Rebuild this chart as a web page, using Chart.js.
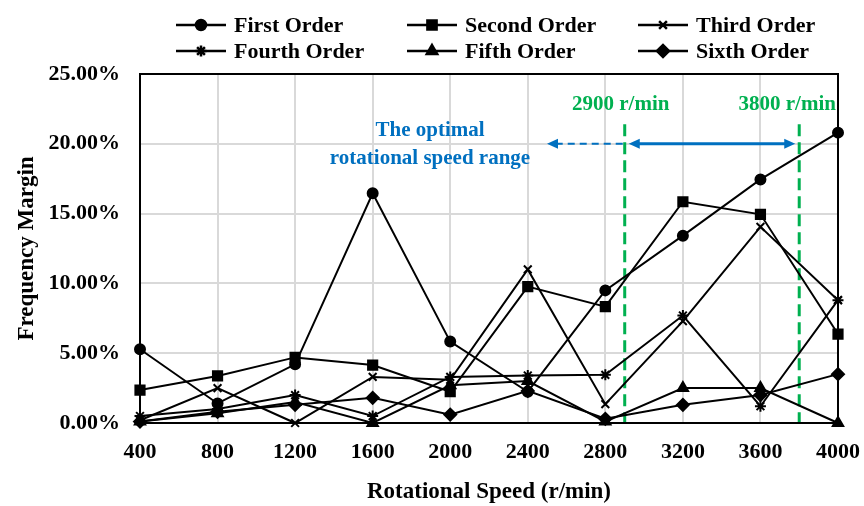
<!DOCTYPE html>
<html>
<head>
<meta charset="utf-8">
<script src="https://cdn.jsdelivr.net/npm/chart.js@4.4.1/dist/chart.umd.min.js"></script>
<style>
  html, body { margin: 0; padding: 0; background: #fff; }
  #wrap { width: 864px; height: 506px; }
</style>
</head>
<body>
<div id="wrap"><canvas id="chart" width="864" height="506"></canvas></div>
<script>
// data (frequency margin in %)
const speeds = ["400", "800", "1200", "1600", "2000", "2400", "2800", "3200", "3600", "4000"];
const firstOrder  = [5.28, 1.4, 4.2, 16.45, 5.83, 2.24, 9.5, 13.42, 17.45, 20.8];
const secondOrder = [2.36, 3.37, 4.7, 4.15, 2.24, 9.77, 8.33, 15.85, 14.95, 6.37];
const thirdOrder  = [0.2, 2.5, 0.0, 3.3, 3.1, 11.0, 1.35, 7.3, 14.05, 8.8];
const fourthOrder = [0.5, 1.0, 2.0, 0.5, 3.3, 3.4, 3.45, 7.7, 1.2, 8.8];
const fifthOrder  = [0.1, 0.7, 1.5, 0.0, 2.7, 3.0, 0.1, 2.5, 2.5, 0.0];
const sixthOrder  = [0.1, 0.8, 1.3, 1.8, 0.6, 2.3, 0.3, 1.3, 2.0, 3.5];

const seriesNames = ["First Order", "Second Order", "Third Order", "Fourth Order", "Fifth Order", "Sixth Order"];
const seriesData = [firstOrder, secondOrder, thirdOrder, fourthOrder, fifthOrder, sixthOrder];
const markers = ["circle", "rect", "crossRot", "star", "triangle", "rectRot"];
const markerSizes = [5, 6.5, 5.5, 5.5, 6, 6];

const rangeStart = 2900, rangeEnd = 3800;
const arrowLevel = 20;   // % level of the blue arrows
const lineTop = 21.4;    // % level where the green lines start

const SERIF = "'Liberation Serif', 'Times New Roman', serif";
const GREEN = "#00b050";
const BLUE = "#0070c0";

// speed -> pixel on the category axis
const speedPixel = (xs, speed) => {
  const v = (speed - 400) / 400;
  const i = Math.min(Math.floor(v), speeds.length - 2);
  const a = xs.getPixelForValue(i), b = xs.getPixelForValue(i + 1);
  return a + (v - i) * (b - a);
};

const drawMarker = (ctx, style, r, x, y) => {
  if (Chart.helpers && Chart.helpers.drawPoint) {
    Chart.helpers.drawPoint(ctx, {pointStyle: style, radius: r, borderWidth: 2, rotation: 0}, x, y);
  } else {
    ctx.beginPath(); ctx.arc(x, y, r, 0, Math.PI * 2); ctx.fill(); ctx.stroke();
  }
};

const arrowHead = (ctx, x, y, dir) => {
  ctx.beginPath();
  ctx.moveTo(x, y);
  ctx.lineTo(x - dir * 11, y - 5);
  ctx.lineTo(x - dir * 11, y + 5);
  ctx.closePath();
  ctx.fill();
};

// legend, frame and the range annotation
const extras = {
  id: "extras",
  beforeDatasetsDraw(chart) {
    const {ctx, chartArea, scales: {x, y}} = chart;
    const x1 = speedPixel(x, rangeStart), x2 = speedPixel(x, rangeEnd);
    const yTop = y.getPixelForValue(lineTop);
    ctx.save();
    ctx.strokeStyle = GREEN;
    ctx.lineWidth = 3;
    ctx.setLineDash([12, 6]);
    [x1, x2].forEach(px => {
      ctx.beginPath(); ctx.moveTo(px, yTop); ctx.lineTo(px, chartArea.bottom); ctx.stroke();
    });

    // blue arrows
    const ya = y.getPixelForValue(arrowLevel);
    ctx.strokeStyle = BLUE;
    ctx.fillStyle = BLUE;
    ctx.lineWidth = 3;
    ctx.setLineDash([]);
    ctx.beginPath(); ctx.moveTo(x1 + 14, ya); ctx.lineTo(x2 - 14, ya); ctx.stroke();
    arrowHead(ctx, x1 + 4, ya, -1);
    arrowHead(ctx, x2 - 4, ya, 1);
    ctx.lineWidth = 2;
    ctx.setLineDash([7, 5]);
    ctx.beginPath(); ctx.moveTo(x1 - 2, ya); ctx.lineTo(558, ya); ctx.stroke();
    ctx.setLineDash([]);
    arrowHead(ctx, 547, ya, -1);

    // texts
    ctx.font = "bold 21px " + SERIF;
    ctx.textAlign = "center";
    ctx.textBaseline = "middle";
    ctx.fillStyle = BLUE;
    ctx.fillText("The optimal", 430, 131);
    ctx.fillText("rotational speed range", 430, 159);
    ctx.fillStyle = GREEN;
    ctx.fillText("2900 r/min", x1 - 4, 105);
    ctx.fillText("3800 r/min", x2 - 12, 105);
    ctx.restore();
  },
  afterDraw(chart) {
    const {ctx, chartArea} = chart;
    ctx.save();
    ctx.strokeStyle = "#000";
    ctx.lineWidth = 2;
    ctx.strokeRect(chartArea.left, chartArea.top, chartArea.right - chartArea.left, chartArea.bottom - chartArea.top);

    // legend: 2 rows x 3 columns
    const cols = [176, 407, 638], rows = [25, 51];
    ctx.font = "bold 22px " + SERIF;
    ctx.textBaseline = "middle";
    ctx.textAlign = "left";
    seriesNames.forEach((name, i) => {
      const lx = cols[i % 3], ly = rows[Math.floor(i / 3)];
      ctx.strokeStyle = "#000";
      ctx.fillStyle = "#000";
      ctx.lineWidth = 2.5;
      ctx.beginPath(); ctx.moveTo(lx, ly); ctx.lineTo(lx + 50, ly); ctx.stroke();
      drawMarker(ctx, markers[i], markerSizes[i], lx + 25, ly);
      ctx.fillStyle = "#000";
      ctx.fillText(name, lx + 58, ly + 1);
    });
    ctx.restore();
  }
};

new Chart(document.getElementById("chart"), {
  type: "line",
  data: {
    labels: speeds,
    datasets: seriesNames.map((name, i) => ({
      label: name,
      data: seriesData[i],
      borderColor: "#000",
      backgroundColor: "#000",
      borderWidth: 2,
      pointStyle: markers[i],
      pointRadius: markerSizes[i],
      pointBackgroundColor: "#000",
      pointBorderColor: "#000",
      pointBorderWidth: 2,
      tension: 0,
      fill: false,
      clip: false
    }))
  },
  options: {
    responsive: false,
    animation: false,
    devicePixelRatio: 1,
    layout: {padding: {top: 74, right: 26, left: 0, bottom: 0}},
    plugins: {legend: {display: false}, tooltip: {enabled: false}},
    scales: {
      x: {
        type: "category",
        offset: false,
        afterFit: s => { s.height = 83; s.paddingLeft = 0; s.paddingRight = 0; },
        grid: {color: "#d9d9d9", lineWidth: 2, drawTicks: false},
        border: {display: false},
        ticks: {color: "#000", padding: 16, maxRotation: 0, autoSkip: false, font: {family: SERIF, size: 22, weight: "bold"}},
        title: {display: true, text: "Rotational Speed (r/min)", color: "#000", padding: {top: 0, bottom: 0}, font: {family: SERIF, size: 23, weight: "bold"}}
      },
      y: {
        min: 0,
        max: 25,
        afterFit: s => { s.width = 140; s.paddingTop = 0; s.paddingBottom = 0; },
        grid: {color: "#d9d9d9", lineWidth: 2, drawTicks: false},
        border: {display: false},
        ticks: {stepSize: 5, color: "#000", padding: 20, callback: v => v.toFixed(2) + "%", font: {family: SERIF, size: 22, weight: "bold"}},
        title: {display: true, text: "Frequency Margin", color: "#000", padding: {top: 13, bottom: 0}, font: {family: SERIF, size: 23, weight: "bold"}}
      }
    }
  },
  plugins: [extras]
});
</script>
</body>
</html>
